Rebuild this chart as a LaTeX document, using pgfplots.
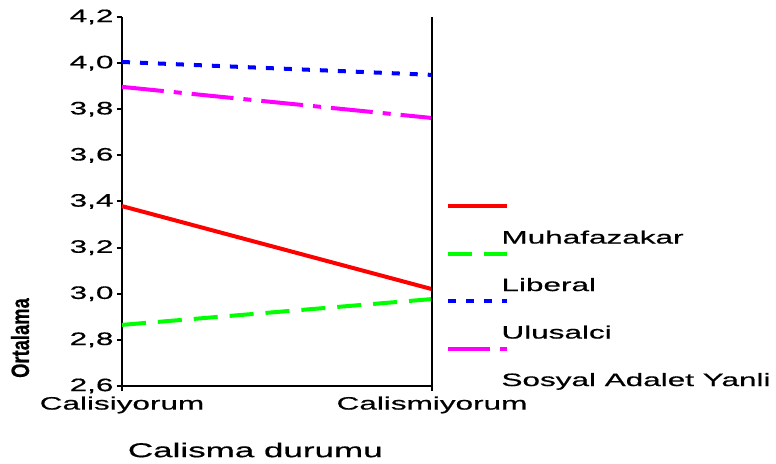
\documentclass[border=0pt]{standalone}
\usepackage{pgfplots}
\pgfplotsset{compat=1.18}
\usepackage{fontspec}
\setmainfont{Liberation Sans}[FakeStretch=1.75, FakeBold=0.6]

\definecolor{cRed}{RGB}{255,0,0}
\definecolor{cGreen}{RGB}{0,255,0}
\definecolor{cBlue}{RGB}{0,0,255}
\definecolor{cMag}{RGB}{255,0,255}

\newcommand{\lab}[1]{\hspace*{-10pt}\raisebox{-38pt}[0pt][0pt]{#1}}

\begin{document}
\begin{tikzpicture}
\useasboundingbox (-122pt,-77pt) rectangle (654pt,386pt);
\begin{axis}[
  scale only axis,
  width=310pt, height=369pt,
  xmin=0, xmax=1, ymin=2.6, ymax=4.2,
  axis x line*=bottom, axis y line*=left,
  axis line style={line width=2pt},
  tick style={line width=2pt, black},
  tick align=outside,
  major tick length=5pt,
  xtick={0,1}, xticklabels={Calisiyorum,Calismiyorum},
  ytick={2.6,2.8,...,4.2},
  yticklabel style={/pgf/number format/.cd, fixed, fixed zerofill, precision=1, use comma, assume math mode=true},
  ticklabel style={font=\fontsize{18}{20}\selectfont},
  xticklabel style={yshift=-2pt},
  xlabel={Calisma durumu},
  xlabel style={at={(axis description cs:0.43,0)}, anchor=center, yshift=-64pt, font=\fontsize{20}{22}\selectfont},
  ylabel={\scalebox{0.42}[1]{Ortalama}},
  ylabel style={at={(axis description cs:-0.329,0.13)}, anchor=center, font=\fontsize{25}{27}\selectfont\bfseries},
  clip=false,
  legend style={at={(rel axis cs:1.046,0.495)}, anchor=north west, draw=none, fill=none,
    font=\fontsize{18}{20}\selectfont, row sep=42pt, inner sep=0pt},
  legend cell align=left,
  legend image code/.code={\draw[#1] (0pt,0pt) -- (59pt,0pt);},
]
\addplot[cRed, line width=4pt] coordinates {(0,3.38) (1,3.02)};
\addlegendentry{\lab{Muhafazakar}}
\addplot[cGreen, line width=4pt, dash pattern=on 24pt off 12pt] coordinates {(0,2.865) (1,2.977)};
\addlegendentry{\lab{Liberal}}
\addplot[cBlue, line width=4pt, dash pattern=on 8pt off 10pt] coordinates {(0,4.005) (1,3.949)};
\addlegendentry{\lab{Ulusalci}}
\addplot[cMag, line width=4pt, dash pattern=on 42pt off 10pt on 8pt off 10pt] coordinates {(0,3.897) (1,3.762)};
\addlegendentry{\lab{Sosyal Adalet Yanli}}
\draw[line width=2pt] (rel axis cs:1,0) -- (rel axis cs:1,1);
\end{axis}
\end{tikzpicture}
\end{document}
